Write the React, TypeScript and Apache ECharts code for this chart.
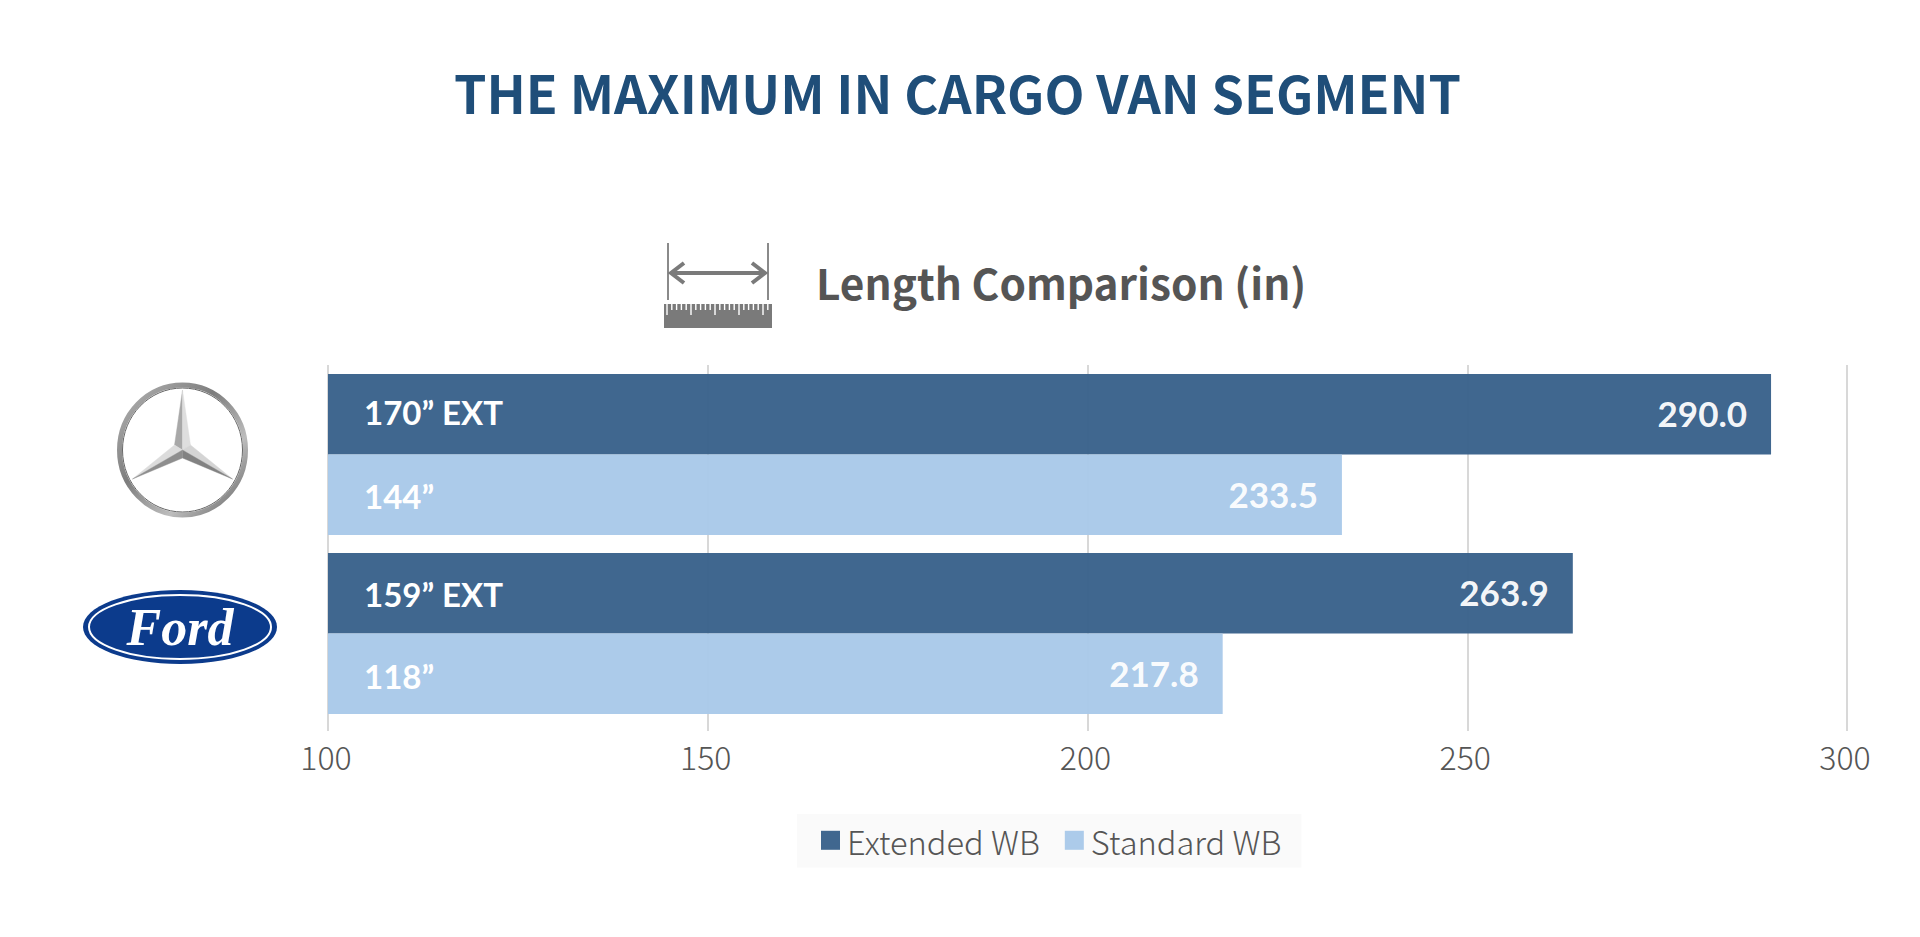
import React, { useEffect, useRef } from "react";
import * as echarts from "echarts";

const brands = ["Mercedes-Benz", "Ford"];
const extendedValues = [290.0, 263.9];
const standardValues = [233.5, 217.8];
const extendedTrims = ["170” EXT", "159” EXT"];
const standardTrims = ["144”", "118”"];
const axisTicks = { min: 100, max: 300, interval: 50 };
const chartTitle = "THE MAXIMUM IN CARGO VAN SEGMENT";
const chartSubtitle = "Length Comparison (in)";
const seriesNames = ["Extended WB", "Standard WB"];

const DARK = "#38618a";
const LIGHT = "#a9c9e9";
const GREY = "#7a7a7a";
const SANS = "'Noto Sans CJK JP', 'Noto Sans', sans-serif";
const BAR_FONT = "Lato, 'Noto Sans', sans-serif";

function rulerGraphics(): any[] {
  const out: any[] = [
    { type: "line", shape: { x1: 668, y1: 243, x2: 668, y2: 300 }, style: { stroke: "#8a8a8a", lineWidth: 2 } },
    { type: "line", shape: { x1: 768, y1: 243, x2: 768, y2: 300 }, style: { stroke: "#8a8a8a", lineWidth: 2 } },
    { type: "line", shape: { x1: 672, y1: 273, x2: 764, y2: 273 }, style: { stroke: GREY, lineWidth: 4 } },
    { type: "polyline", shape: { points: [[684, 263], [671, 273], [684, 283]] }, style: { stroke: GREY, lineWidth: 4, fill: "none" } },
    { type: "polyline", shape: { points: [[752, 263], [765, 273], [752, 283]] }, style: { stroke: GREY, lineWidth: 4, fill: "none" } },
    { type: "rect", shape: { x: 664, y: 304, width: 108, height: 24 }, style: { fill: GREY } },
  ];
  for (let i = 0; i < 22; i++) {
    const h = i % 5 === 0 ? 11 : 6;
    out.push({ type: "line", z: 12, shape: { x1: 667 + i * 4.8, y1: 304, x2: 667 + i * 4.8, y2: 304 + h }, style: { stroke: "#ffffff", lineWidth: 1.4 } });
  }
  return out;
}

function mercedesGraphics(): any[] {
  const cx = 182.5, cy = 450, rx = 63, ry = 65;
  const chrome = new echarts.graphic.LinearGradient(0, 0, 1, 1, [
    { offset: 0, color: "#b5b5b5" },
    { offset: 0.4, color: "#7d7d7d" },
    { offset: 0.7, color: "#bdbdbd" },
    { offset: 1, color: "#5f5f5f" },
  ]);
  const top = [cx, cy - 60], right = [cx + 50, cy + 29], left = [cx - 50, cy + 29], hub = [cx, cy];
  const nl = [cx - 8, cy - 5], nr = [cx + 8, cy - 5], nb = [cx, cy + 8];
  const face = (a: number[], b: number[], c: number[], fill: string) => ({ type: "polygon", shape: { points: [a, b, c] }, style: { fill, stroke: fill, lineWidth: 0.4 } });
  return [
    { type: "ellipse", shape: { cx, cy, rx, ry }, style: { fill: "none", stroke: chrome, lineWidth: 5 } },
    { type: "ellipse", shape: { cx, cy, rx: rx - 3, ry: ry - 3 }, style: { fill: "none", stroke: "#666666", lineWidth: 1 } },
    face(top, nl, hub, "#a8a8a8"),
    face(top, nr, hub, "#dedede"),
    face(right, nr, hub, "#d4d4d4"),
    face(right, nb, hub, "#828282"),
    face(left, nl, hub, "#dcdcdc"),
    face(left, nb, hub, "#8e8e8e"),
  ];
}

function fordGraphics(): any[] {
  const cx = 180, cy = 627;
  return [
    { type: "ellipse", shape: { cx, cy, rx: 97, ry: 37 }, style: { fill: "#0c3b8c" } },
    { type: "ellipse", shape: { cx, cy, rx: 91, ry: 32 }, style: { fill: "none", stroke: "#ffffff", lineWidth: 2 } },
    {
      type: "text",
      x: cx,
      y: cy,
      style: {
        text: "Ford",
        fill: "#ffffff",
        font: "italic bold 52px 'Liberation Serif', serif",
        align: "center",
        verticalAlign: "middle",
      },
    },
  ];
}

export default function App() {
  const ref = useRef<HTMLDivElement>(null);
  useEffect(() => {
    const chart = echarts.init(ref.current!, undefined, { renderer: "svg" });
    const valueLabel = {
      show: true,
      position: "insideRight" as const,
      distance: 24,
      color: "#ffffff",
      fontFamily: BAR_FONT,
      fontWeight: "bold" as const,
      fontSize: 35,
      offset: [0, -1],
      formatter: (p: any) => Number(p.value).toFixed(1),
    };
    const trimLabel = (names: string[]) => ({
      show: true,
      position: "insideLeft" as const,
      distance: 36,
      color: "#ffffff",
      fontFamily: BAR_FONT,
      fontWeight: "bold" as const,
      fontSize: 33,
      formatter: (p: any) => names[p.dataIndex],
    });
    const overlay = (name: string, data: number[], names: string[], dys: number[]) => ({
      name,
      type: "bar",
      yAxisIndex: 1,
      data: data.map((value, i) => ({ value, label: { offset: [0, dys[i]] } })),
      barGap: 0,
      barCategoryGap: "10%",
      silent: true,
      itemStyle: { color: "rgba(0,0,0,0)" },
      label: trimLabel(names),
    });
    chart.setOption({
      animation: false,
      backgroundColor: "#ffffff",
      title: [
        {
          text: chartTitle,
          left: 952.5,
          top: 60,
          textAlign: "center",
          textStyle: { color: "#1f4e79", fontFamily: SANS, fontWeight: "bold", fontSize: 52 },
        },
        {
          text: chartSubtitle,
          left: 811,
          top: 255,
          textStyle: { color: "#555555", fontFamily: SANS, fontWeight: "bold", fontSize: 42.4 },
        },
      ],
      legend: {
        data: seriesNames,
        left: 797,
        top: 814,
        backgroundColor: "#fafafa",
        padding: [10, 20, 11, 24],
        itemWidth: 19,
        itemHeight: 19,
        itemGap: 25,
        icon: "rect",
        textStyle: { color: "#555555", fontFamily: SANS, fontSize: 32.6, fontWeight: 300, padding: [0, 0, 4, 2] },
      },
      grid: { left: 328, right: 73, top: 365, bottom: 214, containLabel: false },
      xAxis: {
        type: "value",
        min: axisTicks.min,
        max: axisTicks.max,
        interval: axisTicks.interval,
        axisLine: { show: false },
        axisTick: { show: true, length: 8, lineStyle: { color: "#cfcfcf", width: 1.6 } },
        splitLine: { show: true, lineStyle: { color: "#cfcfcf", width: 1.6 } },
        axisLabel: { color: "#555555", fontFamily: SANS, fontSize: 32, fontWeight: 300, margin: 17, padding: [0, 4, 0, 0] },
      },
      yAxis: [
        {
          type: "category",
          inverse: true,
          data: brands,
          axisLine: { show: false },
          axisTick: { show: false },
          axisLabel: { show: false },
        },
        {
          type: "category",
          inverse: true,
          data: brands,
          show: false,
        },
      ],
      series: [
        {
          name: seriesNames[0],
          type: "bar",
          data: extendedValues,
          barGap: 0,
          barCategoryGap: "10%",
          itemStyle: { color: DARK, opacity: 0.96 },
          label: valueLabel,
        },
        {
          name: seriesNames[1],
          type: "bar",
          data: standardValues,
          barGap: 0,
          barCategoryGap: "10%",
          itemStyle: { color: LIGHT, opacity: 0.96 },
          label: valueLabel,
        },
        overlay("Extended trims", extendedValues, extendedTrims, [-2, 1]),
        overlay("Standard trims", standardValues, standardTrims, [1, 2]),
      ],
      graphic: [...rulerGraphics(), ...mercedesGraphics(), ...fordGraphics()],
    });
    return () => chart.dispose();
  }, []);
  return <div ref={ref} style={{ position: "absolute", left: 0, top: 0, width: 1920, height: 937 }} />;
}
